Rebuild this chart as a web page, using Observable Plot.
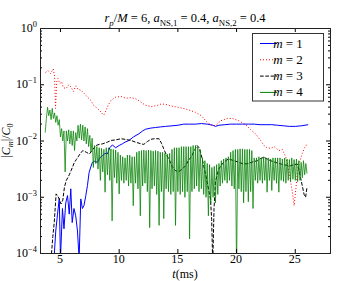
<!DOCTYPE html>
<html><head><meta charset="utf-8">
<script src="https://cdn.jsdelivr.net/npm/d3@7"></script>
<script src="https://cdn.jsdelivr.net/npm/@observablehq/plot@0.6"></script>
<style>body{margin:0;background:#fff}</style>
</head><body><div id="chart"></div>
<script>
// ---- data: time in ms, values stored as log10(|C_m|/C_0) ----
const m1T = [4.45,4.6,4.75,4.9,5.0,5.17,5.3,5.45,5.6,5.75,5.88,6.0,6.15,6.3,6.45,6.59,6.73,6.87,7.0,7.16,7.3,7.44,7.6,7.72,7.9,8.14,8.35,8.57,8.8,9.0,9.2,9.42,9.7,10.0,10.27,10.5,10.84,11.2,11.69,12.0,12.26,12.7,13.1,13.5,13.95,14.5,15.0,15.5,16.0,16.5,17.0,17.5,18.0,18.2,18.5,19.0,19.5,20.0,20.5,21.0,21.5,22.0,22.5,23.0,23.5,24.0,24.5,25.0,25.5,26.1];
const m1Log = [-4.1,-3.6,-3.3,-3.02,-4.1,-3.2,-3.56,-3.1,-2.97,-3.3,-2.85,-3.45,-3.2,-3.33,-3.6,-4.1,-3.03,-3.2,-3.15,-2.97,-2.79,-2.56,-2.45,-2.38,-2.36,-2.38,-2.3,-2.26,-2.22,-2.23,-2.12,-2.07,-2.12,-2.08,-2.05,-2.02,-1.99,-1.93,-1.87,-1.82,-1.79,-1.77,-1.76,-1.75,-1.74,-1.73,-1.72,-1.70,-1.70,-1.70,-1.69,-1.70,-1.72,-1.74,-1.72,-1.71,-1.70,-1.70,-1.70,-1.70,-1.70,-1.71,-1.71,-1.71,-1.72,-1.73,-1.74,-1.74,-1.73,-1.71];

const m2T = [3.73,3.95,4.15,4.38,4.5,4.58,4.68,4.78,4.95,5.1,5.25,5.48,5.7,5.9,6.1,6.3,6.5,6.76,7.0,7.3,7.6,7.8,8.03,8.3,8.5,8.69,8.9,9.1,9.3,9.7,10.16,10.6,11.0,11.43,11.8,12.2,12.7,13.2,13.6,13.98,14.5,15.25,15.8,16.5,17.0,17.5,17.9,18.2,18.65,19.2,19.65,20.2,20.78,21.2,21.6,22.05,22.33,22.6,22.9,23.2,23.6,23.9,24.2,24.4,24.54,24.75,24.9,25.05,25.17,25.4,25.6,25.8,26.0];
const m2Log = [-0.78,-0.75,-0.80,-0.72,-0.85,-1.42,-0.95,-0.89,-0.98,-0.95,-1.05,-1.07,-1.00,-1.04,-1.12,-1.02,-1.08,-1.10,-1.15,-1.22,-1.28,-1.36,-1.40,-1.45,-1.50,-1.54,-1.45,-1.35,-1.28,-1.22,-1.21,-1.24,-1.23,-1.25,-1.30,-1.36,-1.39,-1.37,-1.34,-1.35,-1.38,-1.41,-1.44,-1.49,-1.55,-1.67,-1.72,-1.73,-1.64,-1.60,-1.60,-1.64,-1.71,-1.80,-1.87,-1.99,-2.08,-2.12,-2.13,-2.10,-2.17,-2.15,-2.29,-2.45,-2.65,-2.9,-3.15,-2.85,-2.58,-2.35,-2.22,-2.12,-2.05];

const m3T = [4.2,4.35,4.47,4.63,4.75,4.9,5.05,5.2,5.34,5.5,5.63,5.75,5.9,6.05,6.19,6.35,6.48,6.7,6.9,7.2,7.47,7.75,8.03,8.3,8.6,9.0,9.3,9.7,10.16,10.5,11.0,11.4,11.86,12.1,12.4,12.7,13.0,13.4,13.6,13.8,14.0,14.24,14.5,14.8,15.1,15.37,15.65,15.9,16.2,16.45,16.64,16.8,16.93,17.05,17.2,17.35,17.5,17.65,17.78,17.88,17.97,18.08,18.2,18.35,18.48,18.7,18.9,19.3,19.8,20.2,20.6,21.0,21.4,21.77,22.05,22.33,22.6,22.9,23.3,23.8,24.2,24.6,24.9,25.17,25.3,25.45,25.6,25.75,25.88,26.0];
const m3Log = [-4.1,-3.7,-3.45,-2.94,-2.97,-3.03,-3.12,-3.05,-2.82,-2.7,-2.65,-2.6,-2.53,-2.45,-2.38,-2.33,-2.29,-2.22,-2.17,-2.20,-2.23,-2.15,-2.08,-2.06,-2.05,-2.02,-1.99,-1.98,-1.96,-1.97,-1.99,-2.02,-2.05,-2.06,-2.01,-1.97,-1.96,-1.96,-2.04,-2.14,-2.24,-2.32,-2.45,-2.53,-2.54,-2.50,-2.44,-2.35,-2.26,-2.15,-2.08,-2.12,-2.2,-2.3,-2.44,-2.58,-2.73,-2.9,-3.03,-3.4,-4.2,-3.2,-2.73,-2.6,-2.5,-2.43,-2.38,-2.32,-2.35,-2.38,-2.41,-2.40,-2.37,-2.35,-2.31,-2.29,-2.32,-2.35,-2.38,-2.41,-2.43,-2.44,-2.42,-2.41,-2.5,-2.65,-2.8,-2.95,-3.0,-2.82];

const m4T = [3.7,3.8,3.9,
 4,4.1,4.2,4.3,4.4,4.5,4.6,4.7,4.8,4.9,
 5,5.1,5.2,5.3,5.4,5.5,5.6,5.7,5.8,5.9,
 6,6.1,6.2,6.3,6.4,6.5,6.6,6.7,6.8,6.9,
 7,7.1,7.2,7.3,7.4,7.5,7.6,7.7,7.8,7.9,
 8,8.1,8.2,8.3,8.4,8.5,8.6,8.7,8.8,8.9,
 9,9.1,9.2,9.3,9.4,9.5,9.6,9.7,9.8,9.9,
 10,10.1,10.2,10.3,10.4,10.5,10.6,10.7,10.8,10.9,
 11,11.1,11.2,11.3,11.4,11.5,11.6,11.7,11.8,11.9,
 12,12.1,12.2,12.3,12.4,12.5,12.6,12.7,12.8,12.9,
 13,13.1,13.2,13.3,13.4,13.5,13.6,13.7,13.8,13.9,
 14,14.1,14.2,14.3,14.4,14.5,14.6,14.7,14.8,14.9,
 15,15.1,15.2,15.3,15.4,15.5,15.6,15.7,15.8,15.9,
 16,16.1,16.2,16.3,16.4,16.5,16.6,16.7,16.8,16.9,
 17,17.1,17.2,17.3,17.4,17.5,17.6,17.7,17.8,17.9,
 18,18.1,18.2,18.3,18.4,18.5,18.6,18.7,18.8,18.9,
 19,19.1,19.2,19.3,19.4,19.5,19.6,19.7,19.8,19.9,
 20,20.1,20.2,20.3,20.4,20.5,20.6,20.7,20.8,20.9,
 21,21.1,21.2,21.3,21.4,21.5,21.6,21.7,21.8,21.9,
 22,22.1,22.2,22.3,22.4,22.5,22.6,22.7,22.8,22.9,
 23,23.1,23.2,23.3,23.4,23.5,23.6,23.7,23.8,23.9,
 24,24.1,24.2,24.3,24.4,24.5,24.6,24.7,24.8,24.9,
 25,25.1,25.2,25.3,25.4,25.5,25.6,25.7,25.8,25.9,
 26];
const m4Log = [-1.85,-1.60,-1.40,
 -1.55,-1.45,-1.62,-1.42,-1.60,-1.50,-1.67,-1.55,-1.72,-1.62,
 -1.93,-1.78,-2.00,-1.82,-2.55,-1.82,-2.00,-1.80,-2.05,-1.82,
 -2.08,-1.82,-2.17,-1.85,-2.00,-1.72,-1.95,-1.70,-1.98,-1.72,
 -2.00,-1.75,-2.05,-1.78,-2.10,-1.90,-2.20,-1.95,-2.47,-2.08,
 -2.40,-2.10,-2.50,-2.12,-2.70,-2.13,-2.55,-2.15,-2.91,-2.12,
 -2.60,-2.12,-2.70,-2.14,-3.42,-2.15,-2.65,-2.16,-2.75,-2.20,
 -2.94,-2.25,-2.70,-2.28,-2.75,-2.30,-2.70,-2.25,-2.80,-2.25,
 -2.75,-2.28,-3.15,-2.28,-2.75,-2.20,-2.85,-2.18,-3.33,-2.17,
 -2.80,-2.16,-2.75,-2.17,-2.90,-2.16,-3.54,-2.17,-2.85,-2.18,
 -2.80,-2.17,-2.95,-2.18,-3.50,-2.20,-2.90,-2.20,-3.38,-2.22,
 -2.85,-2.23,-2.90,-2.22,-2.95,-2.15,-2.90,-2.12,-3.50,-2.12,
 -2.90,-2.12,-2.95,-2.10,-2.90,-2.10,-3.00,-2.10,-2.90,-2.10,
 -3.74,-2.10,-2.90,-2.08,-2.85,-2.08,-2.80,-2.10,-2.90,-2.15,
 -2.85,-2.30,-2.95,-2.35,-3.00,-2.40,-3.33,-2.42,-3.10,-2.47,
 -3.00,-2.45,-3.10,-2.42,-2.95,-2.40,-2.80,-2.35,-2.75,-2.32,
 -2.70,-2.30,-2.75,-2.28,-2.70,-2.20,-2.80,-2.17,-2.85,-2.15,
 -4.30,-2.15,-2.85,-2.14,-2.90,-2.14,-3.10,-2.15,-2.90,-2.15,
 -3.08,-2.15,-2.90,-2.17,-3.20,-2.30,-2.70,-2.30,-2.75,-2.28,
 -2.70,-2.30,-2.75,-2.28,-2.70,-2.30,-2.91,-2.30,-2.70,-2.32,
 -2.88,-2.30,-2.70,-2.30,-2.75,-2.30,-2.91,-2.30,-2.70,-2.32,
 -2.72,-2.30,-2.75,-2.32,-2.70,-2.33,-2.72,-2.30,-2.68,-2.33,
 -2.70,-2.32,-2.72,-2.35,-2.70,-2.38,-2.65,-2.35,-2.60,-2.40,
 -2.58];

const xTicks = [5, 10, 15, 20, 25];
const xTickLabels = ["5", "10", "15", "20", "25"];
const yTicks = [-4, -3, -2, -1, 0];
const yTickExps = ["\u22124", "\u22123", "\u22122", "\u22121", "0"];
const seriesLabels = ["1", "2", "3", "4"];
const seriesColors = ["#0000ff", "#ff0000", "#000000", "#008000"];
const seriesDash = [null, "1,2", "3.7,1.6", null];
const seriesWidth = [1, 1, 1, 0.75];

// ---- layout ----
const W = 349, H = 281, mL = 40, mR = 19, mT = 28, mB = 28;
const innerW = W - mL - mR, innerH = H - mT - mB;
const FONT = "'Liberation Serif', 'DejaVu Serif', serif";

const rows = (T, V) => T.map((t, i) => ({t, v: V[i]}));
const minorTicks = [];
for (const k of [-4, -3, -2, -1]) for (const m of [2,3,4,5,6,7,8,9]) minorTicks.push(k + Math.log10(m));

const series = [rows(m1T, m1Log), rows(m2T, m2Log), rows(m3T, m3Log), rows(m4T, m4Log)];

const plot = Plot.plot({
  width: W, height: H,
  marginLeft: mL, marginRight: mR, marginTop: mT, marginBottom: mB,
  style: {background: "#fff", fontFamily: FONT},
  x: {domain: [3.3, 28], axis: null},
  y: {domain: [-4, 0], axis: null},
  marks: [
    ...series.map((d, i) => Plot.line(d, {
      x: "t", y: "v", stroke: seriesColors[i], strokeWidth: seriesWidth[i],
      strokeDasharray: seriesDash[i] || undefined,
      strokeLinecap: "butt", strokeLinejoin: "round", clip: true
    })),
    Plot.tickX(xTicks, {x: d => d, insetTop: innerH - 4, stroke: "#000"}),
    Plot.tickX(xTicks, {x: d => d, insetBottom: innerH - 4, stroke: "#000"}),
    Plot.tickY(yTicks, {y: d => d, insetRight: innerW - 4, stroke: "#000"}),
    Plot.tickY(yTicks, {y: d => d, insetLeft: innerW - 4, stroke: "#000"}),
    Plot.tickY(minorTicks, {y: d => d, insetRight: innerW - 2, stroke: "#000"}),
    Plot.tickY(minorTicks, {y: d => d, insetLeft: innerW - 2, stroke: "#000"}),
    Plot.frame({stroke: "#222", strokeWidth: 1})
  ]
});
document.getElementById("chart").appendChild(plot);

const xs = plot.scale("x"), ys = plot.scale("y");
const svg = d3.select(plot);

function rich(textSel, parts, size) {
  let shift = 0;
  parts.forEach(p => {
    const target = p.sub ? size * 0.28 : p.sup ? -size * 0.42 : 0;
    const ts = textSel.append("tspan").attr("dy", target - shift).text(p.t);
    shift = target;
    if (p.it) ts.attr("font-style", "italic");
    if (p.sub || p.sup) ts.attr("font-size", size * 0.7);
  });
}

const g = svg.append("g").attr("font-family", FONT).attr("fill", "#000");

// x tick labels
xTicks.forEach((t, i) => {
  g.append("text").attr("x", xs.apply(t)).attr("y", H - mB + 9.5)
    .attr("text-anchor", "middle").attr("font-size", 12).text(xTickLabels[i]);
});
// y tick labels 10^k
yTicks.forEach((k, i) => {
  const tx = g.append("text").attr("x", mL - 3).attr("y", ys.apply(k) + 4)
    .attr("text-anchor", "end").attr("font-size", 12);
  rich(tx, [{t: "10"}, {t: yTickExps[i], sup: true}], 12);
});

// title
const title = g.append("text").attr("x", mL + innerW / 2).attr("y", 22)
  .attr("text-anchor", "middle").attr("font-size", 12.5);
rich(title, [
  {t: "r", it: true}, {t: "p", it: true, sub: true}, {t: "/"}, {t: "M", it: true},
  {t: " = 6, "}, {t: "a", it: true}, {t: "NS,1", sub: true}, {t: " = 0.4, "},
  {t: "a", it: true}, {t: "NS,2", sub: true}, {t: " = 0.4"}
], 12.5);

// x label
const xl = g.append("text").attr("x", mL + innerW / 2).attr("y", 277.5)
  .attr("text-anchor", "middle").attr("font-size", 12);
rich(xl, [{t: "t", it: true}, {t: "(ms)"}], 12);

// y label
const yl = g.append("text").attr("transform", `translate(10,${mT + innerH / 2}) rotate(-90)`)
  .attr("text-anchor", "middle").attr("font-size", 12);
rich(yl, [{t: "|"}, {t: "C", it: true}, {t: "m", it: true, sub: true}, {t: "|/"}, {t: "C", it: true}, {t: "0", sub: true}], 12);

// legend
const lg = svg.append("g").attr("font-family", FONT);
lg.append("rect").attr("x", 252.5).attr("y", 33.5).attr("width", 71).attr("height", 67.5)
  .attr("fill", "#fff").attr("stroke", "#333").attr("stroke-width", 1);
seriesLabels.forEach((lab, i) => {
  const yy = 43.5 + i * 16.3;
  lg.append("line").attr("x1", 260).attr("x2", 277).attr("y1", yy).attr("y2", yy)
    .attr("stroke", seriesColors[i]).attr("stroke-width", 1)
    .attr("stroke-dasharray", seriesDash[i] || null);
  const tx = lg.append("text").attr("x", 288).attr("y", yy + 4).attr("font-size", 13);
  rich(tx, [{t: "m", it: true}, {t: " = " + lab}], 13);
});
</script>
</body></html>
